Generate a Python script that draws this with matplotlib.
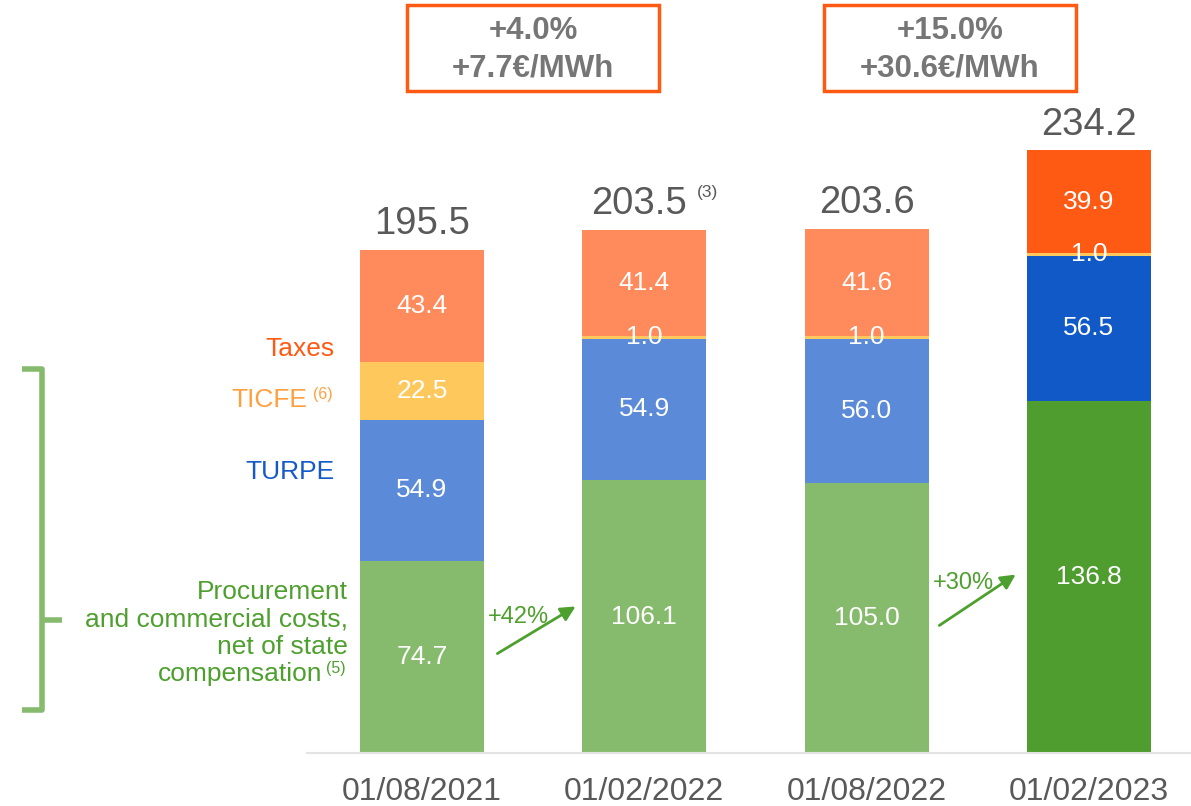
import matplotlib
matplotlib.use('Agg')
import matplotlib.pyplot as plt
from matplotlib.patches import Rectangle
import numpy as np

plt.rcParams['font.family'] = ['Liberation Sans', 'DejaVu Sans']

# data
dates = ['01/08/2021', '01/02/2022', '01/08/2022', '01/02/2023']
procurement = [74.7, 106.1, 105.0, 136.8]
turpe = [54.9, 54.9, 56.0, 56.5]
ticfe = [22.5, 1.0, 1.0, 1.0]
taxes = [43.4, 41.4, 41.6, 39.9]
totals = ['195.5', '203.5', '203.6', '234.2']
changes = [('+4.0%', '+7.7€/MWh'), ('+15.0%', '+30.6€/MWh')]
growth = ['+42%', '+30%']

# colours (last bar darker)
c_green = ['#86BB6E'] * 3 + ['#4F9D2F']
c_blue = ['#5B8BD8'] * 3 + ['#1159C6']
c_yellow = ['#FFC85C'] * 4
c_orange = ['#FF8A5B'] * 3 + ['#FF5A14']

W, H = 1191, 806
fig = plt.figure(figsize=(W / 100, H / 100), dpi=100)
ax = fig.add_axes([0, 0, 1, 1])
step = 222.3
scale = 2.573
base = 753
ax.set_xlim(-422 / step, (W - 422) / step)
ax.set_ylim(-(H - base) / scale, base / scale)
ax.axis('off')


def px(x, y):
    # pixel -> data coords
    return (x - 422) / step, (base - y) / scale


x = np.arange(len(dates))
bw = 124 / step
bottom = np.zeros(4)
for vals, cols in [(procurement, c_green), (turpe, c_blue), (ticfe, c_yellow), (taxes, c_orange)]:
    ax.bar(x, vals, bw, bottom=bottom, color=cols, linewidth=0)
    for i, v in enumerate(vals):
        ax.text(x[i], bottom[i] + v / 2, f'{v:.1f}', ha='center', va='center',
                color='white', fontsize=19)
    bottom = bottom + np.array(vals)

# totals
for i, t in enumerate(totals):
    xo = -0.025 if i == 1 else 0
    ax.text(x[i] + xo, bottom[i] + 3.0, t, ha='center', va='bottom', color='#595959', fontsize=27.5)
ax.text(*px(697, 192), '(3)', ha='left', va='center', color='#595959', fontsize=12.5)

# baseline
ax.plot([px(307, 0)[0], px(W, 0)[0]], [0, 0], color='#E3E3E3', lw=1.5)

# x labels
for i, d in enumerate(dates):
    ax.text(x[i], px(0, 792)[1], d, ha='center', va='center', color='#595959', fontsize=23,
            family=['Liberation Sans Narrow', 'Liberation Sans'])

# change boxes
for (l1, l2), cx in zip(changes, [533, 950]):
    x0, y0 = px(cx - 126, 91)
    x1, y1 = px(cx + 126, 5)
    ax.add_patch(Rectangle((x0, y0), x1 - x0, y1 - y0, fill=False, edgecolor='#FF5A14', lw=2.5))
    ax.text(*px(cx, 31), l1, ha='center', va='center', color='#767676', fontsize=22.5, weight='bold')
    ax.text(*px(cx, 69), l2, ha='center', va='center', color='#767676', fontsize=22.5, weight='bold')

# left labels
fs = 19
ax.text(*px(335, 349), 'Taxes', ha='right', va='center', color='#FF5A14', fontsize=fs)
ax.text(*px(307, 400), 'TICFE', ha='right', va='center', color='#FFA040', fontsize=fs)
ax.text(*px(313, 395), '(6)', ha='left', va='center', color='#FFA040', fontsize=11.5)
ax.text(*px(335, 472), 'TURPE', ha='right', va='center', color='#1459C8', fontsize=fs)
for ly, s in zip([592, 620, 647, 674], ['Procurement', 'and commercial costs,', 'net of state', 'compensation']):
    xr = 348 if s != 'compensation' else 322
    ax.text(*px(xr, ly), s, ha='right', va='center', color='#4EA02E', fontsize=fs)
ax.text(*px(326, 668), '(5)', ha='left', va='center', color='#4EA02E', fontsize=11.5)

# bracket
bx = [22, 42, 42, 22]
by = [369, 369, 710, 710]
ax.plot(*zip(*[px(a, b) for a, b in zip(bx, by)]), color='#86BB6E', lw=4,
        solid_joinstyle='round', solid_capstyle='butt')
ax.plot(*zip(px(42, 620), px(62, 620)), color='#86BB6E', lw=4, solid_capstyle='butt')

# growth arrows
for g, (sx, sy, ex, ey), (tx, ty) in zip(growth, [(495, 655, 578, 605), (937, 627, 1018, 573)],
                                         [(518, 617), (963, 583)]):
    ax.annotate('', xy=px(ex, ey), xytext=px(sx, sy),
                arrowprops=dict(arrowstyle='-|>', color='#4EA02E', lw=2, mutation_scale=22))
    ax.text(*px(tx, ty), g, ha='center', va='center', color='#4EA02E', fontsize=17)

fig.savefig('out.png', dpi=100)
